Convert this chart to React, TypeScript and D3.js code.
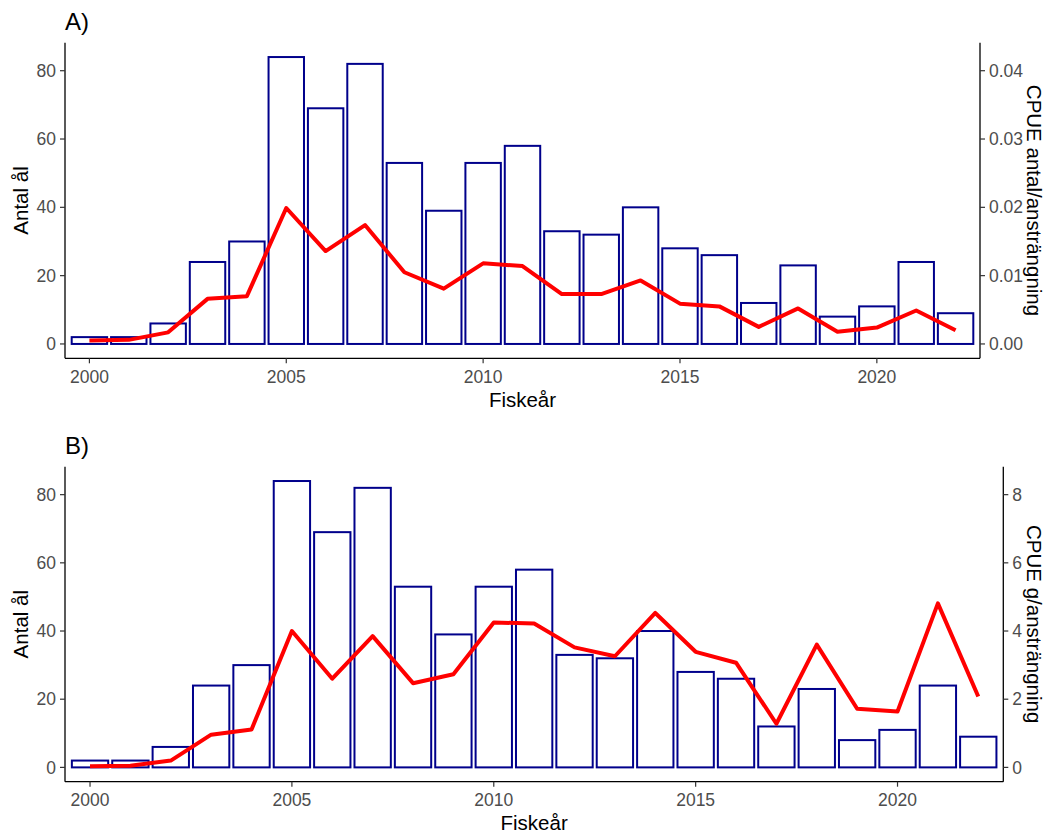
import React from "react";
import * as d3 from "d3";

// Fishing years and yearly eel counts (bars), shared by both panels
const years = [2000, 2001, 2002, 2003, 2004, 2005, 2006, 2007, 2008, 2009, 2010, 2011, 2012, 2013, 2014, 2015, 2016, 2017, 2018, 2019, 2020, 2021, 2022];
const antal = [2, 2, 6, 24, 30, 84, 69, 82, 53, 39, 53, 58, 33, 32, 40, 28, 26, 12, 23, 8, 11, 24, 9];

// CPUE as number per effort (panel A)
const cpueAntal = [0.0005, 0.0006, 0.0017, 0.0066, 0.007, 0.0199, 0.0136, 0.0174, 0.0105, 0.0081, 0.0118, 0.0114, 0.0073, 0.0073, 0.0093, 0.0059, 0.0055, 0.0025, 0.0052, 0.0018, 0.0024, 0.0049, 0.002];
// CPUE as grams per effort (panel B)
const cpueGram = [0.03, 0.05, 0.2, 0.96, 1.11, 4.0, 2.6, 3.85, 2.47, 2.73, 4.25, 4.22, 3.52, 3.26, 4.53, 3.39, 3.07, 1.28, 3.6, 1.72, 1.64, 4.81, 2.08];

const xTicks = [2000, 2005, 2010, 2015, 2020];
const leftTicks = [0, 20, 40, 60, 80];
const rightTicksA = [0, 0.01, 0.02, 0.03, 0.04];
const rightTicksB = [0, 2, 4, 6, 8];

const FONT = "'Liberation Sans', Arial, sans-serif";
const TICK_COLOR = "#4d4d4d";
const BAR_COLOR = "#00008B";
const LINE_COLOR = "#FF0000";
const TICK_SIZE = 17.5;
const TITLE_SIZE = 20.5;

type PanelProps = {
  label: string;
  top: number;
  bottom: number;
  left: number;
  right: number;
  cpue: number[];
  factor: number;
  rightTicks: number[];
  rightFormat: (v: number) => string;
  rightTitle: string;
  rightTitleX: number;
};

function Panel({ label, top, bottom, left, right, cpue, factor, rightTicks, rightFormat, rightTitle, rightTitleX }: PanelProps) {
  const x = d3.scaleLinear().domain([1999.38, 2022.62]).range([left, right]);
  const y = d3.scaleLinear().domain([-4.2, 88.2]).range([bottom, top]);
  const yR = d3.scaleLinear().domain([-4.2 * factor, 88.2 * factor]).range([bottom, top]);
  const bw = x(0.9) - x(0);
  const line = d3
    .line<number>()
    .x((_, i) => x(years[i]))
    .y((d) => yR(d));
  const midY = (top + bottom) / 2;
  const midX = (left + right) / 2;

  return (
    <g>
      <text x={left} y={top - 13} fontFamily={FONT} fontSize={24} fill="#000">
        {label}
      </text>
      {/* bars */}
      {antal.map((v, i) => (
        <rect
          key={years[i]}
          x={x(years[i]) - bw / 2}
          y={y(v)}
          width={bw}
          height={y(0) - y(v)}
          fill="#fff"
          stroke={BAR_COLOR}
          strokeWidth={2}
        />
      ))}
      {/* CPUE line */}
      <path d={line(cpue) || ""} fill="none" stroke={LINE_COLOR} strokeWidth={4} strokeLinejoin="round" />
      {/* axes */}
      <line x1={left} x2={left} y1={top} y2={bottom} stroke="#000" strokeWidth={1.3} />
      <line x1={right} x2={right} y1={top} y2={bottom} stroke="#000" strokeWidth={1.3} />
      <line x1={left} x2={right} y1={bottom} y2={bottom} stroke="#000" strokeWidth={1.3} />
      {leftTicks.map((t) => (
        <g key={"l" + t}>
          <line x1={left - 5} x2={left} y1={y(t)} y2={y(t)} stroke="#333" strokeWidth={1.2} />
          <text x={left - 9} y={y(t)} dy="0.35em" textAnchor="end" fontFamily={FONT} fontSize={TICK_SIZE} fill={TICK_COLOR}>
            {t}
          </text>
        </g>
      ))}
      {rightTicks.map((t) => (
        <g key={"r" + t}>
          <line x1={right} x2={right + 5} y1={yR(t)} y2={yR(t)} stroke="#333" strokeWidth={1.2} />
          <text x={right + 9} y={yR(t)} dy="0.35em" textAnchor="start" fontFamily={FONT} fontSize={TICK_SIZE} fill={TICK_COLOR}>
            {rightFormat(t)}
          </text>
        </g>
      ))}
      {xTicks.map((t) => (
        <g key={"x" + t}>
          <line x1={x(t)} x2={x(t)} y1={bottom} y2={bottom + 5} stroke="#333" strokeWidth={1.2} />
          <text x={x(t)} y={bottom + 24.5} textAnchor="middle" fontFamily={FONT} fontSize={TICK_SIZE} fill={TICK_COLOR}>
            {t}
          </text>
        </g>
      ))}
      {/* titles */}
      <text x={midX} y={bottom + 48.5} textAnchor="middle" fontFamily={FONT} fontSize={TITLE_SIZE} fill="#000">
        Fiskeår
      </text>
      <text
        transform={`translate(${28},${midY}) rotate(-90)`}
        textAnchor="middle"
        fontFamily={FONT}
        fontSize={TITLE_SIZE}
        fill="#000"
      >
        Antal ål
      </text>
      <text
        transform={`translate(${rightTitleX},${midY}) rotate(90)`}
        textAnchor="middle"
        fontFamily={FONT}
        fontSize={TITLE_SIZE}
        fill="#000"
      >
        {rightTitle}
      </text>
    </g>
  );
}

export default function App() {
  return (
    <svg
      width={1047}
      height={834}
      style={{ position: "absolute", left: 0, top: 0, background: "#fff" }}
    >
      <rect width={1047} height={834} fill="#fff" />
      <Panel
        label="A)"
        top={42.7}
        bottom={358.3}
        left={65}
        right={980}
        cpue={cpueAntal}
        factor={0.0005}
        rightTicks={rightTicksA}
        rightFormat={(v) => v.toFixed(2)}
        rightTitle="CPUE antal/ansträngning"
        rightTitleX={1026.5}
      />
      <Panel
        label="B)"
        top={466.7}
        bottom={781.7}
        left={65}
        right={1003.3}
        cpue={cpueGram}
        factor={0.1}
        rightTicks={rightTicksB}
        rightFormat={(v) => String(v)}
        rightTitle="CPUE g/ansträngning"
        rightTitleX={1026.5}
      />
    </svg>
  );
}
